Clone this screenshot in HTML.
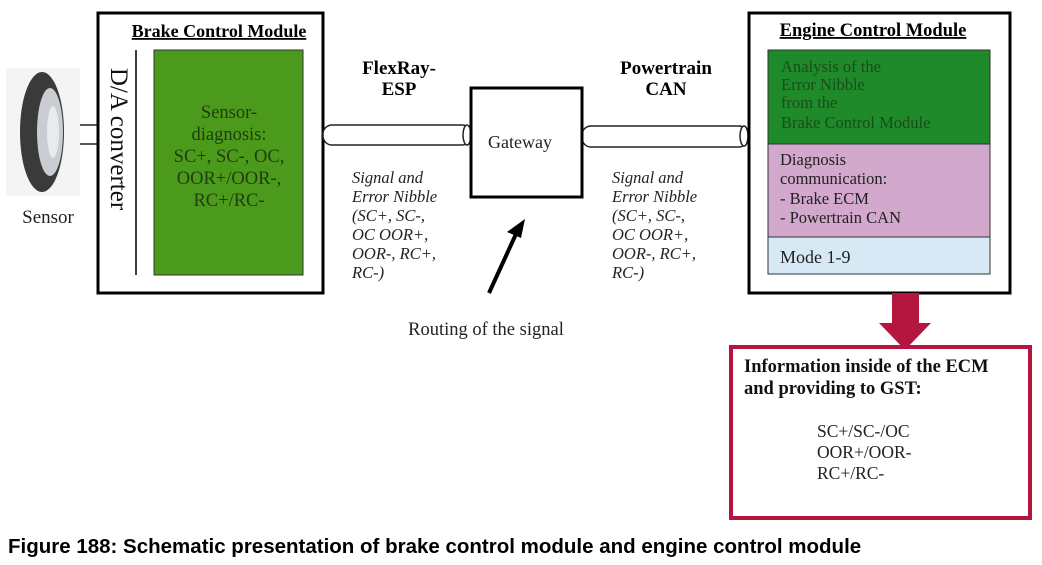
<!DOCTYPE html>
<html><head><meta charset="utf-8"><style>
html,body{margin:0;padding:0;background:#fff;}
svg{display:block;}
.t{font-family:"Liberation Serif",serif;}
.i{font-family:"Liberation Serif",serif;font-style:italic;font-size:16.5px;fill:#222;}
</style></head><body>
<svg width="1042" height="565" viewBox="0 0 1042 565" xmlns="http://www.w3.org/2000/svg">
<!-- sensor wheel -->
<rect x="6" y="68" width="74" height="128" fill="#f4f4f4"/>
<ellipse cx="42" cy="132" rx="22" ry="60" fill="#3a3a3a"/>
<ellipse cx="50" cy="132" rx="13" ry="44" fill="#c9ccd0"/>
<ellipse cx="53" cy="132" rx="6" ry="26" fill="#e8eaec"/>
<text x="48" y="223" class="t" font-size="19" text-anchor="middle" fill="#222">Sensor</text>
<line x1="80" y1="125" x2="98" y2="125" stroke="#222" stroke-width="1.5"/>
<line x1="80" y1="144" x2="98" y2="144" stroke="#222" stroke-width="1.5"/>
<!-- BCM -->
<rect x="98" y="13" width="225" height="280" fill="#fff" stroke="#000" stroke-width="3"/>
<text x="219" y="37" class="t" font-size="18" font-weight="bold" text-anchor="middle" text-decoration="underline">Brake Control Module</text>
<line x1="136" y1="50" x2="136" y2="275" stroke="#000" stroke-width="1.5"/>
<text transform="translate(111,139) rotate(90)" class="t" font-size="25" text-anchor="middle" fill="#111">D/A converter</text>
<rect x="154" y="50" width="149" height="225" fill="#4c9a1c" stroke="#333" stroke-width="1"/>
<g class="t" font-size="18.5" text-anchor="middle" fill="#1f3d10">
<text x="229" y="118">Sensor-</text>
<text x="229" y="140">diagnosis:</text>
<text x="229" y="162">SC+, SC-, OC,</text>
<text x="229" y="184">OOR+/OOR-,</text>
<text x="229" y="206">RC+/RC-</text>
</g>
<!-- left pipe -->
<rect x="323" y="125" width="148" height="20" rx="9" fill="#fff" stroke="#222" stroke-width="1.5"/>
<ellipse cx="467" cy="135" rx="4" ry="10" fill="#fff" stroke="#222" stroke-width="1.5"/>
<!-- right pipe -->
<rect x="582" y="126" width="166" height="21" rx="9" fill="#fff" stroke="#222" stroke-width="1.5"/>
<ellipse cx="744" cy="136" rx="4" ry="10" fill="#fff" stroke="#222" stroke-width="1.5"/>
<!-- gateway -->
<rect x="471" y="88" width="111" height="109" fill="#fff" stroke="#000" stroke-width="3"/>
<text x="520" y="148" class="t" font-size="18" text-anchor="middle" fill="#222">Gateway</text>
<!-- bus labels -->
<g class="t" font-size="19" font-weight="bold" text-anchor="middle">
<text x="399" y="74">FlexRay-</text>
<text x="399" y="95">ESP</text>
<text x="666" y="74">Powertrain</text>
<text x="666" y="95">CAN</text>
</g>
<g class="i">
<text x="352" y="183">Signal and</text>
<text x="352" y="202">Error Nibble</text>
<text x="352" y="221">(SC+, SC-,</text>
<text x="352" y="240">OC OOR+,</text>
<text x="352" y="259">OOR-, RC+,</text>
<text x="352" y="278">RC-)</text>
<text x="612" y="183">Signal and</text>
<text x="612" y="202">Error Nibble</text>
<text x="612" y="221">(SC+, SC-,</text>
<text x="612" y="240">OC OOR+,</text>
<text x="612" y="259">OOR-, RC+,</text>
<text x="612" y="278">RC-)</text>
</g>
<!-- routing arrow -->
<line x1="489" y1="293" x2="516" y2="234" stroke="#000" stroke-width="4"/>
<polygon points="525,219 507,232 521,238" fill="#000"/>
<text x="486" y="335" class="t" font-size="18.5" text-anchor="middle" fill="#222">Routing of the signal</text>
<!-- ECM -->
<rect x="749" y="13" width="261" height="280" fill="#fff" stroke="#000" stroke-width="3"/>
<text x="873" y="36" class="t" font-size="18.5" font-weight="bold" text-anchor="middle" text-decoration="underline">Engine Control Module</text>
<rect x="768" y="50" width="222" height="94" fill="#1e8a2a" stroke="#333" stroke-width="1"/>
<rect x="768" y="144" width="222" height="93" fill="#d2a8cc" stroke="#333" stroke-width="1"/>
<rect x="768" y="237" width="222" height="37" fill="#d6e9f5" stroke="#333" stroke-width="1"/>
<g class="t" font-size="16.5" fill="#1a4d1a">
<text x="781" y="72">Analysis of the</text>
<text x="781" y="90">Error Nibble</text>
<text x="781" y="108">from the</text>
<text x="781" y="128">Brake Control Module</text>
</g>
<g class="t" font-size="16.5" fill="#222">
<text x="780" y="165">Diagnosis</text>
<text x="780" y="184">communication:</text>
<text x="780" y="204">- Brake ECM</text>
<text x="780" y="223">- Powertrain CAN</text>
</g>
<text x="780" y="263" class="t" font-size="18" fill="#222">Mode 1-9</text>
<!-- red arrow -->
<polygon points="892,293 919,293 919,323 931,323 905,350 879,323 892,323" fill="#b5163f"/>
<!-- info box -->
<rect x="731" y="347" width="299" height="171" fill="#fff" stroke="#b5163f" stroke-width="4"/>
<g class="t" font-size="18.5" font-weight="bold" fill="#111">
<text x="744" y="372">Information inside of the ECM</text>
<text x="744" y="394">and providing to GST:</text>
</g>
<g class="t" font-size="17.5" fill="#222">
<text x="817" y="437">SC+/SC-/OC</text>
<text x="817" y="458">OOR+/OOR-</text>
<text x="817" y="479">RC+/RC-</text>
</g>
<!-- caption -->
<text x="8" y="553" font-family="Liberation Sans, sans-serif" font-size="20.5" font-weight="bold" fill="#000">Figure 188: Schematic presentation of brake control module and engine control module</text>
</svg>
</body></html>
